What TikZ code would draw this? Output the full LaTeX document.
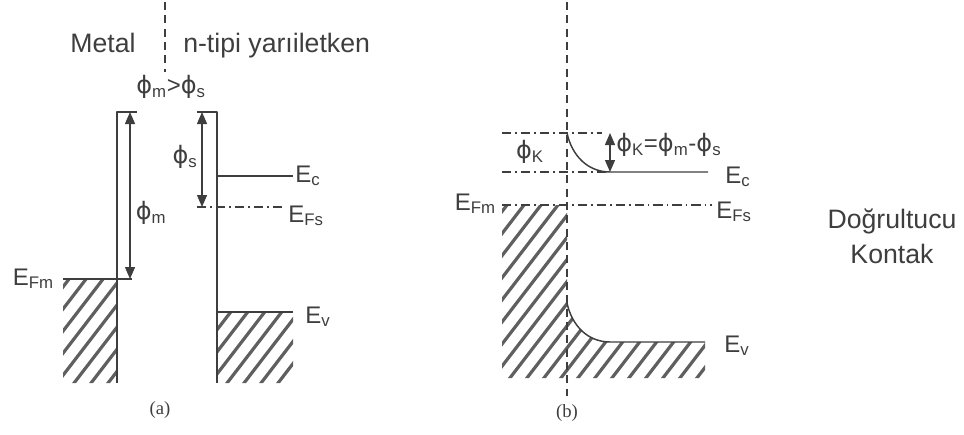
\documentclass[tikz,border=0pt]{standalone}
\usepackage{fontspec}
\setmainfont{Liberation Sans}
\newfontfamily\capfont{Liberation Serif}
\newfontfamily\phifont{DejaVu Sans}
\newcommand{\phiup}{{\phifont\symbol{"03D5}}}
\usetikzlibrary{arrows.meta}

\begin{document}
\begin{tikzpicture}[x=0.75pt,y=-0.75pt,line join=round]
\definecolor{ink}{RGB}{62,62,62}\definecolor{hatchc}{RGB}{95,95,95}
\tikzset{
  band/.style={draw=ink,line width=1.1pt},
  ddot/.style={draw=ink,line width=1pt,dash pattern=on 7pt off 3pt on 1.2pt off 3pt},
  iface/.style={draw=ink,line width=1pt,dash pattern=on 6pt off 4pt},
  gaparrow/.style={draw=ink,line width=1pt,
    {Triangle[length=9pt,width=7.5pt]}-{Triangle[length=9pt,width=7.5pt]}},
  hatchline/.style={draw=hatchc,line width=2.4pt},
  txt/.style={text=ink,font=\fontsize{20}{22}\selectfont,inner sep=0pt},
  lvl/.style={text=ink,font=\fontsize{18}{20}\selectfont,inner sep=0pt},
  subcap/.style={text=ink,font=\capfont\fontsize{14}{16}\selectfont,inner sep=0pt}}
\useasboundingbox (0,0) rectangle (964,435);

% ---------- (a) before contact
\draw[iface] (165,2) -- (165,72);
\node[txt,anchor=base] (metal) at (103,53) {Metal};
\node[txt,anchor=base west] (semi) at (183,53) {n-tipi yarıiletken};
\node[lvl,anchor=center] (cond) at (171,87) {\phiup\textsubscript{m}>\phiup\textsubscript{s}};
% hatched filled states
\begin{scope}
  \clip (63,279) rectangle (117,383) (217,312) rectangle (293,383);
  \foreach \x in {-160,-143,...,320}{\draw[hatchline] (\x,400) -- ++(200,-260);}
\end{scope}
% metal side
\coordinate (mtop) at (130,112);
\coordinate (mfermi) at (130,279);
\draw[band] (137,112) -- (117,112) -- (117,383);
\draw[band] (63,279) -- (132,279);
\draw[gaparrow] (mtop) -- (mfermi);
\node[lvl] (phim) at (151,213) {\phiup\textsubscript{m}};
\node[lvl,anchor=base east] (efm) at (54,285) {E\textsubscript{Fm}};
% semiconductor side
\coordinate (stop) at (202,112);
\coordinate (sfermi) at (202,207);
\draw[band] (197,112) -- (217,112) -- (217,383);
\draw[band] (217,176) -- (293,176);
\draw[ddot] (197,207) -- (286,207);
\draw[band] (217,312) -- (293,312);
\draw[gaparrow] (stop) -- (sfermi);
\node[lvl] (phis) at (185,157) {\phiup\textsubscript{s}};
\node[lvl,anchor=base west] (eca) at (295,182) {E\textsubscript{c}};
\node[lvl,anchor=base west] (efsa) at (288,222) {E\textsubscript{Fs}};
\node[lvl,anchor=base west] (eva) at (305,323) {E\textsubscript{v}};
\node[subcap] (capa) at (160,410) {(a)};

% ---------- (b) in contact
\begin{scope}
  \clip (502,205) -- (567,205) -- (567,303)
    .. controls (572,326) and (588,342) .. (610,342)
    -- (705,342) -- (705,378) -- (502,378) -- cycle;
  \foreach \x in {340,357,...,760}{\draw[hatchline] (\x,400) -- ++(200,-260);}
\end{scope}
\draw[iface] (567,2) -- (567,396);
\coordinate (btop) at (610,133);
\coordinate (bbot) at (610,172);
\draw[ddot] (502,133) -- (602,133);
\draw[ddot] (502,172) -- (610,172);
\draw[ddot] (502,205) -- (712,205);
\draw[band] (567,133) .. controls (572,156) and (588,172) .. (bbot) -- (708,172);
\draw[band] (567,303) .. controls (572,326) and (588,342) .. (610,342) -- (705,342);
\draw[gaparrow] (btop) -- (bbot);
\node[lvl] (phikl) at (530,152) {\phiup\textsubscript{K}};
\node[lvl,anchor=west] (phik) at (616,145) {\phiup\textsubscript{K}=\phiup\textsubscript{m}-\phiup\textsubscript{s}};
\node[lvl,anchor=base west] (ecb) at (725,183) {E\textsubscript{c}};
\node[lvl,anchor=base west] (efsb) at (716,218) {E\textsubscript{Fs}};
\node[lvl,anchor=base east] (efmb) at (496,210) {E\textsubscript{Fm}};
\node[lvl,anchor=base west] (evb) at (724,352) {E\textsubscript{v}};
\node[subcap] (capb) at (567,413) {(b)};

% ---------- side note
\node[txt,anchor=base] (kind) at (892,228) {Doğrultucu};
\node[txt,anchor=base] (kind2) at (892,263) {Kontak};
\end{tikzpicture}
\end{document}
